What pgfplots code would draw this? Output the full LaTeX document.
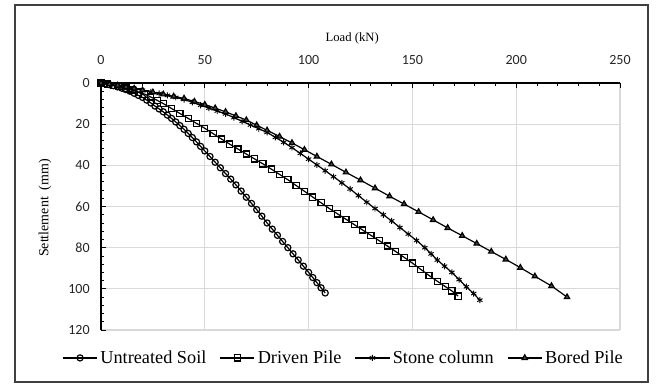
\documentclass[border=0pt]{standalone}
\usepackage{pgfplots}
\pgfplotsset{compat=1.18}
\usepackage{fontspec}
\setmainfont{Liberation Serif}
\newfontfamily\carlito{Carlito}
\begin{document}
\begin{tikzpicture}
\useasboundingbox (0pt,0pt) rectangle (495.75pt,290.25pt);
\draw[black!75,line width=0.9pt] (11.25pt,3.75pt) rectangle (486pt,286.5pt);
\begin{axis}[
  at={(75.75pt,42.75pt)}, anchor=south west,
  scale only axis, width=389.25pt, height=185.25pt,
  xmin=0, xmax=250, ymin=0, ymax=120,
  y dir=reverse,
  axis x line*=top, axis y line*=left,
  axis line style={black, line width=0.8pt},
  xtick={0,50,...,250}, ytick={0,20,...,120},
  minor x tick num=4, minor y tick num=4,
  tick align=inside,
  major tick length=4pt, minor tick length=2pt,
  tick style={black, line width=0.6pt},
  grid=major, major grid style={gray!30, line width=0.8pt},
  /pgf/number format/assume math mode=true,
  ticklabel style={font=\carlito\fontsize{10.5}{12}\selectfont, text=black!85},
  xticklabel style={yshift=10pt},
  yticklabel style={xshift=-5pt},
  xlabel={Load (kN)}, ylabel={Settlement\ \ (mm)},
  xlabel style={font=\fontsize{9.5}{11}\selectfont, at={(axis description cs:0.484,1.182)}, anchor=center},
  ylabel style={font=\fontsize{10.5}{12}\selectfont, at={(axis description cs:-0.108,0.494)}, anchor=center, rotate=0},
  every axis plot/.append style={black, line width=0.9pt, mark size=2.3pt, mark options={solid, line width=0.7pt}},
  legend columns=4,
  legend style={draw=none, fill=none, at={(0.468,-0.113)}, anchor=center,
    font=\fontsize{13.7}{16}\selectfont, /tikz/every even column/.append style={column sep=8pt}},
  legend image code/.code={\draw[mark repeat=2,mark phase=2,#1] plot coordinates {(0cm,0cm) (0.45cm,0cm) (0.9cm,0cm)};},
  legend cell align=left,
  clip=false,
]
\addplot[mark=o, mark options={fill=white}] coordinates {
(0,0) (2,0.4) (4,0.8) (6,1.3) (8,1.9) (10,2.5) (12,3.2) (14,4) (16,5) (18,6) (20,7)
(22,8.3) (24,9.7) (26,11.2) (28,12.6) (30,14) (32,15.6) (34,17.2) (36,18.9) (38,20.7)
(40,22.5) (42,24.5) (44,26.5) (46,28.6) (48,30.8) (50,33) (52.5,35.7) (55,38.5)
(57.5,41.2) (60,44) (62.5,46.7) (65,49.5) (67.5,52.5) (70,55.5) (72.5,58.5) (75,61.5)
(77.5,64.7) (80,68) (82.5,71) (85,74) (87.5,77) (90,80) (92.5,83) (95,86) (97.5,89)
(100,92) (102,94.5) (104,97) (106,99.5) (108,102)};
\addlegendentry{Untreated Soil}
\addplot[mark=square, mark options={fill=white}] coordinates {
(0,0) (3,0.5) (6,1.1) (9,1.8) (12,2.5) (15,3.4) (18,4.4) (21,5.4) (24,6.8) (27,8.4)
(30,10) (34,12.4) (38,14.8) (42,17.2) (46,19.6) (50,22) (54,24.6) (58,27.2) (62,29.7)
(66,32.1) (70,34.5) (74,36.9) (78,39.3) (82,41.8) (86,44.4) (90,47) (94,49.8) (98,52.6)
(102,55.4) (106,58.2) (110,61) (114,63.6) (118,66.2) (122,68.8) (126,71.4) (130,74)
(134,76.6) (138,79.2) (142,81.9) (146,84.7) (150,87.5) (154,90.5) (158,93.5) (162,96.3)
(166,99) (169,101) (172,103.5)};
\addlegendentry{Driven Pile}
\addplot[mark=asterisk] coordinates {
(0,0) (4,0.6) (8,1.2) (12,1.9) (16,2.7) (20,3.5) (24,4.3) (28,5.1) (32,6) (36,7) (40,8)
(44,9.4) (48,10.8) (52,12.2) (56,13.6) (60,15) (64,16.8) (68,18.6) (72,20.4) (76,22.2)
(80,24) (84,26.4) (88,28.8) (92,31.4) (96,34.2) (100,37) (104,39.8) (108,42.6) (112,45.5)
(116,48.5) (120,51.5) (124,54.7) (128,57.9) (132,61) (136,64) (140,67) (144,70.2)
(148,73.4) (152,76.5) (156,80) (159,83) (162,86) (165.5,89) (169,92) (172.5,95.5)
(176,99) (179.5,102.3) (182.5,105.5)};
\addlegendentry{Stone column}
\addplot[mark=triangle*, mark options={fill=black!70}] coordinates {
(0,0) (4,0.6) (8,1.2) (12,1.9) (16,2.7) (20,3.5) (25,4.5) (30,5.5) (35,6.5) (40,7.5)
(45,9) (50,10.5) (55,12.2) (60,14) (65,16) (70,18) (75,20.5) (80,23) (86,26) (92,29.1)
(98,32.4) (104,35.7) (111,39.5) (118,43.4) (125,47.2) (132,51.1) (139,55) (146,58.8)
(153,62.6) (160,66.5) (167,70.4) (174,74.2) (181,78) (188,81.9) (195,85.7) (202,89.7)
(209,93.9) (217,98.6) (224.5,104)};
\addlegendentry{Bored Pile}
\end{axis}
\end{tikzpicture}
\end{document}
